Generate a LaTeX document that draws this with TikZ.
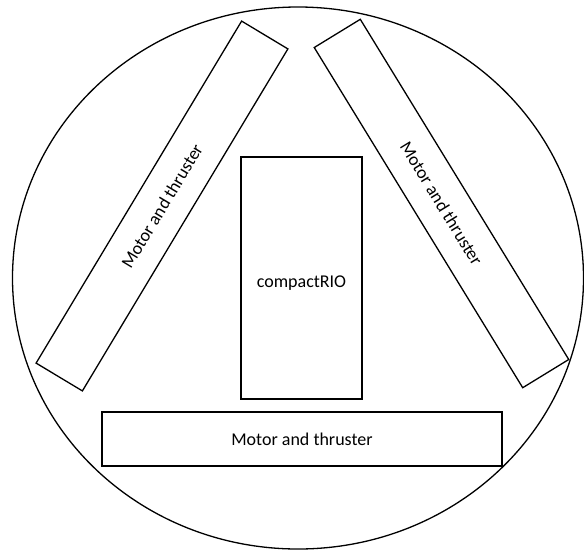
\documentclass[tikz,border=0pt]{standalone}
\usepackage{fontspec}
\setmainfont{Carlito}
\begin{document}
\begin{tikzpicture}[x=1pt, y=-1pt, line width=1.3pt,
    font=\fontsize{18pt}{21pt}\selectfont,
    unitbox/.style={draw, inner sep=0pt, anchor=center},
    motorbar/.style={unitbox, minimum width=399pt, minimum height=54pt}]

  % ── Canvas (584 x 550 px) ────────────────────────────────────────
  \useasboundingbox (0,0) rectangle (584,550);

  % ── Hull outline ─────────────────────────────────────────────────
  \draw (298,278) ellipse [x radius=285.5pt, y radius=271pt];

  % ── Controller in the middle ─────────────────────────────────────
  \node[unitbox, minimum width=121pt, minimum height=242pt] (crio) at (301.5,278) {};
  \node[yshift=-5pt] (criotext) at (crio.center) {compactRIO};

  % ── Three motor / thruster units ─────────────────────────────────
  \node[motorbar, rotate=59]    (motorL) at (162,206)   {Motor and thruster};
  \node[motorbar, rotate=-58.5] (motorR) at (441.5,203.5) {Motor and thruster};
  \node[motorbar, minimum width=400pt] (motorB) at (302,439) {Motor and thruster};

\end{tikzpicture}
\end{document}
